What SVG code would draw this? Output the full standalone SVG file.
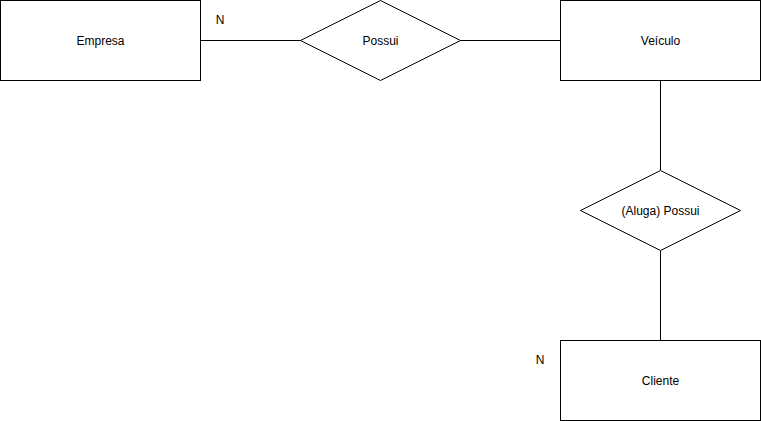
<svg xmlns="http://www.w3.org/2000/svg" width="761" height="421" viewBox="0 0 761 421">
<style>
.shape{fill:#fff;stroke:#000;stroke-width:1}
.edge{fill:none;stroke:#000;stroke-width:1}
text{font-family:"Liberation Sans",Arial,sans-serif;font-size:12px;fill:#000;text-anchor:middle;dominant-baseline:central}
</style>
<rect width="761" height="421" fill="#fff"/>
<g id="connectors">
<path class="edge" d="M200.5 40.5H300.5"/>
<path class="edge" d="M460.5 40.5H560.5"/>
<path class="edge" d="M660.5 80.5V170.5"/>
<path class="edge" d="M660.5 250.5V340.5"/>
</g>
<g id="empresa"><rect class="shape" x="0.5" y="0.5" width="200" height="80"/><text x="100.5" y="40.5">Empresa</text></g>
<g id="possui"><path class="shape" d="M380.5 0.5L460.5 40.5L380.5 80.5L300.5 40.5Z"/><text x="380.5" y="40.5">Possui</text></g>
<g id="veiculo"><rect class="shape" x="560.5" y="0.5" width="200" height="80"/><text x="660.5" y="40.5">Veículo</text></g>
<g id="aluga"><path class="shape" d="M660.5 170.5L740.5 210.5L660.5 250.5L580.5 210.5Z"/><text x="660.5" y="210.5">(Aluga) Possui</text></g>
<g id="cliente"><rect class="shape" x="560.5" y="340.5" width="200" height="80"/><text x="660.5" y="380.5">Cliente</text></g>
<g id="label-n1"><text x="220" y="20">N</text></g>
<g id="label-n2"><text x="540" y="360">N</text></g>
</svg>
